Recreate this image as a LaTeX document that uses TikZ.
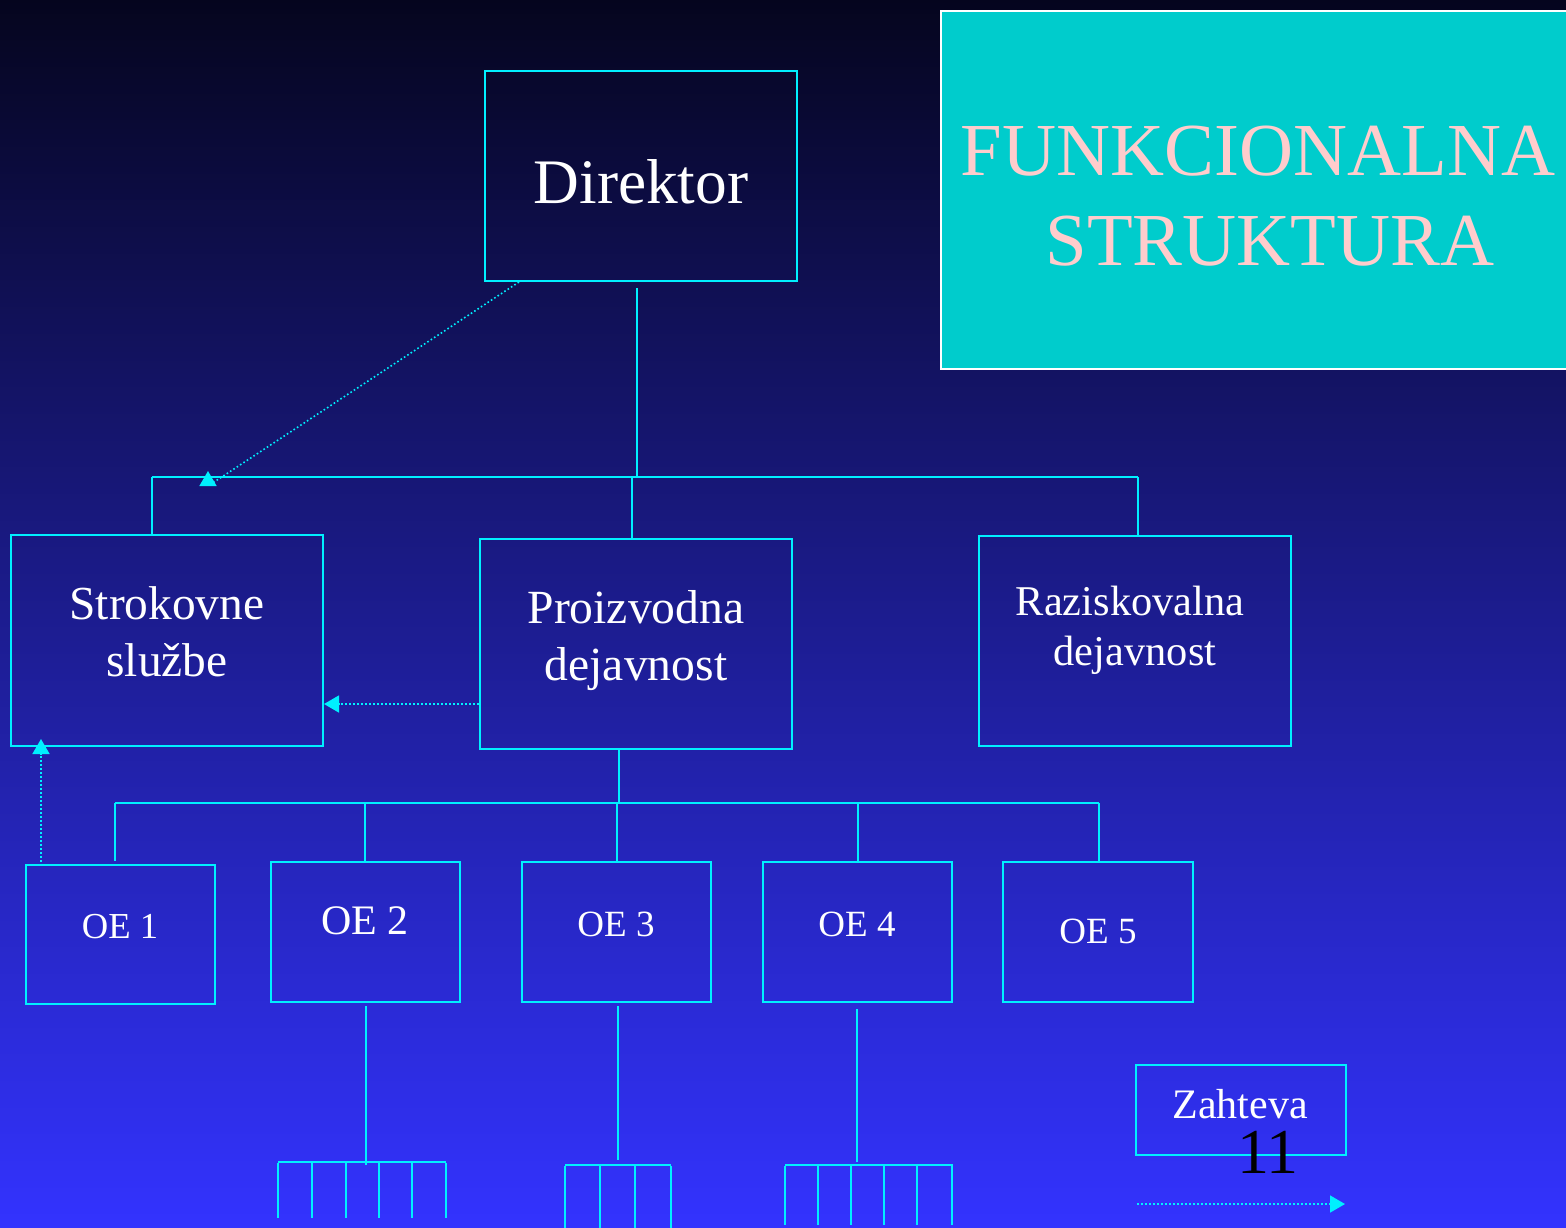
\documentclass[tikz,border=0pt]{standalone}
\usepackage{fontspec}
\setmainfont{Liberation Serif}
\usetikzlibrary{arrows.meta,calc}

\definecolor{linecyan}{RGB}{0,240,255}
\definecolor{titlefill}{RGB}{0,204,204}
\definecolor{titletext}{RGB}{255,204,204}
\definecolor{bgtop}{RGB}{5,5,30}
\definecolor{bgbottom}{RGB}{51,51,255}

\newcommand\setfs[1]{\fontsize{#1}{#1}\selectfont}

\tikzset{
  box/.style={draw=linecyan, line width=1pt, inner sep=0pt, rectangle},
  link/.style={draw=linecyan, line width=1pt},
  dotlink/.style={draw=linecyan, line width=0.8pt, dash pattern=on 0.8pt off 1.2pt,
                  -{Triangle[length=7.5pt,width=8.5pt,fill=linecyan]}},
  lbl/.style={text=white, anchor=base, inner sep=0pt},
}

\begin{document}
\begin{tikzpicture}[x=0.5pt,y=-0.5pt]
\useasboundingbox (0,0) rectangle (1566,1227);
\clip (0,0) rectangle (1566,1227);

% background
\shade[top color=bgtop, bottom color=bgbottom] (0,0) rectangle (1566,1227);

% title panel
\node[draw=white, line width=0.8pt, fill=titlefill, inner sep=0pt,
      minimum width=314.5pt, minimum height=179pt] (title) at (1255.5,190) {};
\node[lbl, text=titletext, font=\setfs{37.4}] (t1) at (1258,175) {FUNKCIONALNA};
\node[lbl, text=titletext, font=\setfs{37.4}] (t2) at (1270,265) {STRUKTURA};

% boxes
\node[box, minimum width=156pt, minimum height=105pt]   (dir) at (641,176) {};
\node[box, minimum width=156pt, minimum height=105.5pt] (sl)  at (167,640.5) {};
\node[box, minimum width=156pt, minimum height=105pt]   (pd)  at (636,644) {};
\node[box, minimum width=156pt, minimum height=105pt]   (rd)  at (1135,641) {};
\node[box, minimum width=94.5pt, minimum height=69.5pt] (oe1) at (120.5,934.5) {};
\node[box, minimum width=94.5pt, minimum height=70pt]   (oe2) at (365.5,932) {};
\node[box, minimum width=94.5pt, minimum height=70pt]   (oe3) at (616.5,932) {};
\node[box, minimum width=94.5pt, minimum height=70pt]   (oe4) at (857.5,932) {};
\node[box, minimum width=95pt,   minimum height=70pt]   (oe5) at (1098,932) {};
\node[box, minimum width=105pt,  minimum height=45pt]   (zah) at (1241,1110) {};

% labels
\node[lbl, font=\setfs{31.7}] (dirT)  at (641,203) {Direktor};
\node[lbl, font=\setfs{23.7}] (slT1)  at (167,619) {Strokovne};
\node[lbl, font=\setfs{23.7}] (slT2)  at (167,676) {službe};
\node[lbl, font=\setfs{23.8}] (pdT1)  at (636,623) {Proizvodna};
\node[lbl, font=\setfs{23.8}] (pdT2)  at (636,680) {dejavnost};
\node[lbl, font=\setfs{21.2}] (rdT1)  at (1130,615) {Raziskovalna};
\node[lbl, font=\setfs{21.2}] (rdT2)  at (1135,665) {dejavnost};
\node[lbl, font=\setfs{18.3}] (oe1T)  at (120,938) {OE 1};
\node[lbl, font=\setfs{21}]   (oe2T)  at (365,934) {OE 2};
\node[lbl, font=\setfs{18.5}] (oe3T)  at (616,936) {OE 3};
\node[lbl, font=\setfs{18.5}] (oe4T)  at (857,936) {OE 4};
\node[lbl, font=\setfs{18.5}] (oe5T)  at (1098,943) {OE 5};
\node[lbl, font=\setfs{21}]   (zahT)  at (1240,1118) {Zahteva};
\node[lbl, text=black, font=\setfs{32}] (num) at (1268,1173) {11};

% first level tree
\coordinate (busL) at (152,477);
\coordinate (busR) at (1138,477);
\coordinate (busM) at (637,477);
\coordinate (busP) at (632,477);
\draw[link] (dir.south -| busM) ++(0,6) -- (busM);
\draw[link] (busL) -- (busR);
\draw[link] (busL) -- (sl.north -| busL);
\draw[link] (busP) -- (pd.north -| busP);
\draw[link] (busR) -- (rd.north -| busR);

% second level tree
\coordinate (b2L) at (115,803);
\coordinate (b2R) at (1099,803);
\coordinate (b2M) at (619,803);
\draw[link] (pd.south -| b2M) -- (b2M);
\draw[link] (b2L) -- (b2R);
\draw[link] (b2L) -- ([yshift=1.5pt]oe1.north -| b2L);
\draw[link] (365,803) -- (oe2.north -| 365,0);
\draw[link] (617,803) -- (oe3.north -| 617,0);
\draw[link] (858,803) -- (oe4.north -| 858,0);
\draw[link] (b2R) -- (oe5.north -| b2R);

% sub-units under OE 2
\draw[link] (oe2.south -| 366,0) ++(0,3) -- (366,1165);
\draw[link] (278,1162) -- (446,1162);
\foreach \x in {278,312,345.5,379,412,446} \draw[link] (\x,1163) -- (\x,1218);

% sub-units under OE 3
\draw[link] (oe3.south -| 618,0) ++(0,3) -- (618,1160);
\draw[link] (565,1165) -- (671,1165);
\foreach \x in {565,600,635,671} \draw[link] (\x,1166) -- (\x,1230);

% sub-units under OE 4
\draw[link] (oe4.south -| 857,0) ++(0,6) -- (857,1162);
\draw[link] (785,1165) -- (953,1165);
\foreach \x in {785,818,851,884,917,952} \draw[link] (\x,1166) -- (\x,1225);

% requests (dotted arrows)
\coordinate (dirTipBase) at (208,486);
\coordinate (dirTip) at (208,471);
\draw[dotlink] ([xshift=17.5pt]dir.south west) -- (dirTipBase) -- (dirTip);
\draw[dotlink] (pd.west |- 0,704) -- (sl.east |- 0,704);
\coordinate (oeStart) at (41,862);
\coordinate (slTip) at (41,739);
\draw[dotlink] (oeStart) -- (slTip);

% legend arrow
\coordinate (legS) at (1137,1204);
\coordinate (legE) at (1345,1204);
\draw[dotlink] (legS) -- (legE);
\end{tikzpicture}
\end{document}
